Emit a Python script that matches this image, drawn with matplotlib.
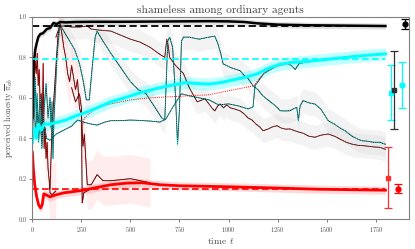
import matplotlib
matplotlib.use("Agg")
import matplotlib.pyplot as plt
import numpy as np

plt.rcParams["font.family"] = ["cmr10", "DejaVu Serif"]
plt.rcParams["mathtext.fontset"] = "cm"
plt.rcParams["axes.formatter.use_mathtext"] = True

# mean curves (thick)
t_black = [0, 3, 8, 15, 22, 30, 40, 55, 73, 90, 107, 125, 141, 170, 220, 300, 450, 600, 750, 900, 1000, 1080, 1150, 1250, 1400, 1600, 1800]
v_black = [0.50, 0.70, 0.78, 0.84, 0.87, 0.90, 0.915, 0.92, 0.94, 0.945, 0.97, 0.965, 0.975, 0.973, 0.975, 0.976, 0.976, 0.977, 0.978, 0.979, 0.978, 0.975, 0.968, 0.962, 0.959, 0.957, 0.955]

t_cyan = [0, 10, 20, 30, 45, 60, 90, 130, 170, 220, 280, 340, 400, 470, 550, 630, 700, 780, 850, 900, 960, 1030, 1100, 1150, 1200, 1260, 1320, 1400, 1500, 1600, 1700, 1800]
v_cyan = [0.38, 0.45, 0.40, 0.47, 0.44, 0.47, 0.47, 0.48, 0.49, 0.51, 0.53, 0.555, 0.58, 0.60, 0.625, 0.645, 0.66, 0.675, 0.67, 0.668, 0.675, 0.69, 0.705, 0.72, 0.745, 0.765, 0.775, 0.78, 0.79, 0.80, 0.81, 0.817]

t_red = [0, 5, 12, 22, 32, 42, 50, 58, 70, 90, 120, 160, 200, 260, 320, 400, 480, 560, 650, 750, 850, 1000, 1200, 1450, 1650, 1800]
v_red = [0.33, 0.25, 0.17, 0.11, 0.07, 0.055, 0.07, 0.125, 0.12, 0.11, 0.12, 0.13, 0.135, 0.143, 0.155, 0.17, 0.178, 0.18, 0.17, 0.165, 0.163, 0.16, 0.155, 0.148, 0.145, 0.143]

# reference levels (dashed)
level_black = 0.957
level_cyan = 0.792
level_red = 0.148
t_end = 1800

# single runs (thin)
t_a = [120, 140, 170, 200, 240, 280, 300, 340, 400, 450, 500, 550, 600, 650, 675, 685, 692, 700, 730, 770, 800, 840, 880,
       900, 915, 930, 945, 957, 975, 990, 1010, 1030, 1060, 1080, 1100, 1120, 1140, 1160, 1176, 1200, 1220, 1247, 1270,
       1290, 1313, 1330, 1356, 1380, 1410, 1441, 1470, 1508, 1540, 1570, 1600, 1629, 1660, 1700, 1740, 1772, 1800]
v_a = [0.90, 0.955, 0.955, 0.95, 0.95, 0.955, 0.94, 0.935, 0.93, 0.91, 0.89, 0.875, 0.85, 0.815, 0.80, 0.89, 0.86, 0.80, 0.76, 0.72, 0.65, 0.58, 0.595,
       0.57, 0.55, 0.535, 0.56, 0.57, 0.55, 0.565, 0.55, 0.545, 0.535, 0.52, 0.50, 0.49, 0.47, 0.455, 0.437, 0.445, 0.455, 0.462, 0.45,
       0.445, 0.446, 0.44, 0.431, 0.425, 0.41, 0.405, 0.415, 0.421, 0.41, 0.395, 0.38, 0.371, 0.365, 0.362, 0.357, 0.355, 0.345]

t_b = [0, 5, 10, 15, 20, 25, 30, 40, 50, 60, 70, 80, 90, 95, 100, 105, 110, 118, 125, 140, 160, 190, 215, 240, 260, 275, 290,
       305, 320, 330, 360, 400, 450, 500, 540, 580, 620, 660, 675, 690, 700, 715, 730, 740, 750, 760, 770, 800, 850, 900,
       930, 945, 960, 973, 990, 1010, 1040, 1059, 1080, 1100, 1125, 1150, 1175, 1195, 1220, 1240, 1264, 1290, 1313, 1330,
       1348, 1356, 1365, 1380, 1410, 1441, 1470, 1508, 1540, 1570, 1594, 1630, 1660, 1679, 1710, 1740, 1772, 1800]
v_b = [0.45, 0.75, 0.55, 0.70, 0.50, 0.62, 0.45, 0.60, 0.40, 0.55, 0.67, 0.50, 0.60, 0.45, 0.58, 0.30, 0.50, 0.65, 0.80, 0.965, 0.93, 0.88, 0.84, 0.77, 0.68, 0.59, 0.59,
       0.75, 0.90, 0.93, 0.88, 0.82, 0.75, 0.68, 0.64, 0.62, 0.56, 0.50, 0.49, 0.88, 0.90, 0.85, 0.60, 0.37, 0.55, 0.88, 0.90, 0.90, 0.89, 0.90,
       0.905, 0.87, 0.82, 0.767, 0.76, 0.75, 0.74, 0.734, 0.71, 0.695, 0.66, 0.64, 0.61, 0.594, 0.575, 0.56, 0.536, 0.535, 0.536, 0.545,
       0.553, 0.487, 0.56, 0.586, 0.575, 0.569, 0.545, 0.487, 0.47, 0.45, 0.437, 0.41, 0.395, 0.388, 0.385, 0.38, 0.38, 0.37]

t_c = [0, 8, 16, 24, 32, 40, 48, 56, 64, 72, 90, 120, 160, 200, 230, 260, 300, 330, 370, 400, 450, 500, 550, 600, 650, 680, 720, 760, 800, 850, 900, 950, 1000, 1050, 1100, 1125, 1135, 1180, 1250, 1300, 1320, 1340, 1360, 1420, 1500]
v_c = [0.40, 0.60, 0.42, 0.55, 0.38, 0.52, 0.35, 0.48, 0.45, 0.40, 0.39, 0.42, 0.44, 0.46, 0.49, 0.48, 0.47, 0.465, 0.48, 0.487, 0.487, 0.49, 0.488, 0.485, 0.48, 0.495, 0.56, 0.62, 0.61, 0.60, 0.59, 0.565, 0.57, 0.56, 0.545, 0.555, 0.66, 0.72, 0.76, 0.77, 0.76, 0.74, 0.77, 0.78, 0.79]

t_d = [255, 265, 300, 350, 400, 450, 500, 600, 700, 800, 900, 1000, 1080, 1130, 1160, 1200, 1300, 1400]
v_d = [0.46, 0.50, 0.53, 0.56, 0.57, 0.58, 0.59, 0.60, 0.605, 0.61, 0.615, 0.635, 0.65, 0.66, 0.70, 0.74, 0.77, 0.78]

t_e = [0, 5, 10, 15, 20, 25, 30, 35, 40, 45, 50, 55, 60, 65, 70, 75, 80, 85, 90, 100, 110, 120]
v_e = [0.45, 0.60, 0.70, 0.78, 0.72, 0.82, 0.66, 0.74, 0.55, 0.62, 0.42, 0.77, 0.35, 0.45, 0.30, 0.38, 0.25, 0.20, 0.13, 0.12, 0.13, 0.14]

t_f = [90, 100, 110, 120, 130, 140, 150, 160, 170, 180, 190, 200, 210, 220, 230, 240, 250, 258, 265, 272, 280, 300, 330, 360, 400, 450, 500, 550, 600]
v_f = [0.15, 0.45, 0.60, 0.75, 0.90, 0.97, 0.92, 0.85, 0.80, 0.72, 0.68, 0.76, 0.70, 0.64, 0.69, 0.55, 0.52, 0.36, 0.42, 0.30, 0.17, 0.17, 0.22, 0.19, 0.19, 0.195, 0.20, 0.19, 0.18]

t_g = [200, 220, 240, 250, 254, 258, 262, 280, 300]
v_g = [0.65, 0.58, 0.62, 0.55, 0.08, 0.10, 0.13, 0.14, 0.15]

# end-of-run summary points: (t, value, low, high)
summ_t = [1811, 1828, 1845, 1865, 1883, 1900]
summ_v = [0.204, 0.625, 0.639, 0.1485, 0.663, 0.965]
summ_lo = [0.053, 0.49, 0.446, 0.130, 0.551, 0.94]
summ_hi = [0.358, 0.762, 0.832, 0.172, 0.776, 0.989]
summ_c = ["#ff3030", "cyan", "#303030", "red", "cyan", "black"]
summ_m = ["s", "s", "s", "o", "o", "o"]

fig = plt.figure(figsize=(4.15, 2.49), dpi=100)
ax = fig.add_axes([0.078, 0.12, 0.908, 0.812])


def band(t, v, w, color, alpha):
    v = np.array(v)
    ax.fill_between(t, v - w, v + w, color=color, alpha=alpha, lw=0)


band(t_a, v_a, 0.06, "0.8", 0.22)
band(t_b, v_b, 0.06, "0.8", 0.22)
band(t_f, v_f, 0.12, "#ffb0b0", 0.22)
band(t_e, v_e, 0.15, "#ffb0b0", 0.22)
band(t_black, v_black, 0.015, "0.6", 0.3)
band(t_cyan, v_cyan, 0.03, "cyan", 0.25)
band(t_red, v_red, 0.02, "red", 0.15)


def run(t, v, color):
    ax.plot(t, v, color="black", lw=0.6)
    ax.plot(t, v, color=color, lw=0.6, ls=(0, (1, 1.2)))


run(t_e, v_e, "red")
run(t_f, v_f, "red")
run(t_g, v_g, "red")
run(t_a, v_a, "#ff3030")
run(t_b, v_b, "cyan")
run(t_c, v_c, "cyan")
ax.plot(t_d, v_d, color="red", lw=0.7, ls=(0, (1, 1.2)))

ax.plot(t_cyan, v_cyan, color="cyan", lw=2.2)
ax.plot(t_red, v_red, color="red", lw=2.0)
ax.plot(t_black, v_black, color="black", lw=1.8)

ax.plot([0, t_end], [level_black] * 2, color="black", lw=1.3, ls=(0, (4, 2)))
ax.plot([0, t_end], [level_cyan] * 2, color="cyan", lw=1.2, ls=(0, (4, 2)))
ax.plot([0, t_end], [level_red] * 2, color="red", lw=1.2, ls=(0, (4, 2)))

for x, y, lo, hi, c, m in zip(summ_t, summ_v, summ_lo, summ_hi, summ_c, summ_m):
    ax.errorbar([x], [y], yerr=[[y - lo], [hi - y]], fmt=m, color=c,
                ms=3.5, elinewidth=0.9, capsize=3, capthick=0.9)

ax.set_xlim(0, 1921)
ax.set_ylim(0, 1.0)
ax.set_xticks([0, 250, 500, 750, 1000, 1250, 1500, 1750])
ax.set_yticks([0.0, 0.2, 0.4, 0.6, 0.8, 1.0])
ax.set_yticklabels(["0.0", "0.2", "0.4", "0.6", "0.8", "1.0"])
ax.tick_params(labelsize=4.5, length=2, width=0.6, color="0.4", labelcolor="0.3", pad=2)
for s in ax.spines.values():
    s.set_color("0.5")
    s.set_linewidth(0.8)

ax.set_title("shameless among ordinary agents", fontsize=8.2, color="0.25", pad=3)
ax.set_xlabel("time $t$", fontsize=7, color="0.3", labelpad=2)
ax.set_ylabel(r"perceived honesty $\overline{\pi}_{ab}$", fontsize=6, color="0.3", labelpad=3)

fig.savefig("out.png", dpi=100)
